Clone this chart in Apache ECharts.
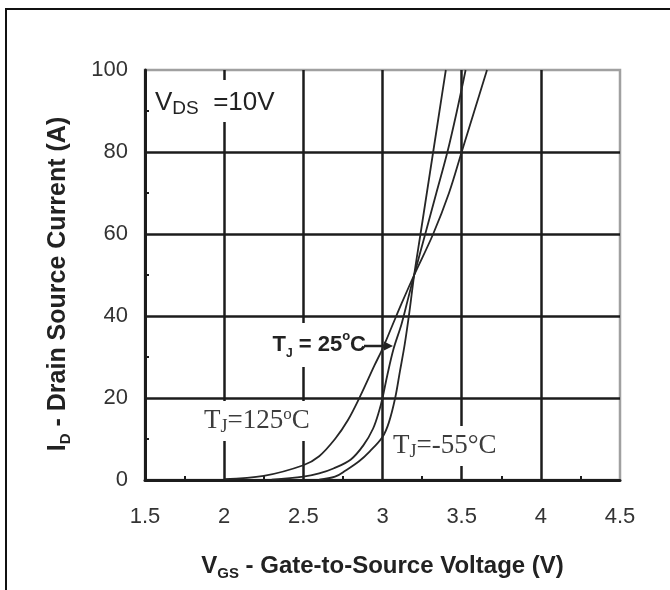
<!DOCTYPE html>
<html><head><meta charset="utf-8">
<script src="https://cdn.jsdelivr.net/npm/echarts@6/dist/echarts.min.js"></script>
<style>html,body{margin:0;padding:0;background:#fff;overflow:hidden}#c{width:670px;height:590px}</style>
</head><body><div id="c"></div>
<script>
// ---- data ----
const vgs125 = [2.0, 2.25, 2.5, 2.6, 2.7, 2.78, 2.86, 2.95, 3.0, 3.06, 3.12, 3.2, 3.32, 3.42, 3.5, 3.58, 3.66];
const id125  = [0.2, 1.0, 3.6, 5.8, 10, 14.5, 20.5, 28, 32, 37.5, 43, 50, 60, 70, 80, 90, 100];
const vgs25  = [2.3, 2.5, 2.6, 2.69, 2.8, 2.88, 2.94, 2.98, 3.0, 3.03, 3.07, 3.12, 3.16, 3.2, 3.27, 3.34, 3.41, 3.47, 3.525];
const id25   = [0.1, 0.8, 1.6, 2.8, 5.0, 8.5, 12.5, 17, 20, 25.5, 32, 38, 44, 50, 60, 70, 80, 90, 100];
const vgsM55 = [2.6, 2.7, 2.77, 2.85, 2.92, 3.0, 3.04, 3.08, 3.11, 3.14, 3.17, 3.2, 3.24, 3.28, 3.32, 3.36, 3.4];
const idM55  = [0.1, 0.8, 2.4, 4.5, 7.0, 10.5, 14, 20, 26.5, 33, 41, 50, 60, 70, 80, 90, 100];
const xRange = [1.5, 4.5], xStep = 0.5;
const yRange = [0, 100], yStep = 20;

function pairs(x, y) { return x.map((v, i) => [v, y[i]]); }

const SANS = '"Liberation Sans", Arial, sans-serif';
const SERIF = '"Liberation Serif", "Times New Roman", serif';
const INK = '#1c1c1c';

const chart = echarts.init(document.getElementById('c'));
const curveStyle = { color: '#262626', width: 1.8 };
function curve(name, x, y) {
  return { name, type: 'line', data: pairs(x, y), smooth: 0.35,
    showSymbol: false, symbol: 'none', lineStyle: curveStyle, z: 10, clip: true };
}

const axisCommon = {
  type: 'value',
  axisLine: { show: true, onZero: false, lineStyle: { color: INK, width: 3 } },
  axisTick: { show: false, inside: true },
  minorTick: { show: true, splitNumber: 2, length: 4, lineStyle: { color: INK, width: 2 } },
  splitLine: { show: true, showMinLine: false, showMaxLine: false, lineStyle: { color: INK, width: 2.5 } },
  minorSplitLine: { show: false }
};

chart.setOption({
  animation: false,
  backgroundColor: '#fff',
  grid: { left: 145, right: 50, top: 70, bottom: 110, show: true,
          borderColor: '#a0a0a0', borderWidth: 2.5, backgroundColor: '#fff' },
  xAxis: Object.assign({}, axisCommon, {
    min: xRange[0], max: xRange[1], interval: xStep,
    axisLabel: { margin: 26, fontSize: 22, color: '#333', fontFamily: SANS },
    name: '{m|V}{s|GS}{m| - Gate-to-Source Voltage (V)}',
    nameLocation: 'middle', nameGap: 71,
    nameTextStyle: { rich: {
      m: { fontSize: 24, fontWeight: 'bold', fontFamily: SANS, color: '#222', lineHeight: 30 },
      s: { fontSize: 15, fontWeight: 'bold', fontFamily: SANS, color: '#222', lineHeight: 15, verticalAlign: 'bottom' }
    } }
  }),
  yAxis: Object.assign({}, axisCommon, {
    min: yRange[0], max: yRange[1], interval: yStep,
    axisLabel: { margin: 17, fontSize: 22, color: '#333', fontFamily: SANS },
    name: '{m|I}{s|D}{m| - Drain Source Current (A)}',
    nameLocation: 'middle', nameGap: 72,
    nameTextStyle: { padding: [0, 18, 0, 0], rich: {
      m: { fontSize: 25, fontWeight: 'bold', fontFamily: SANS, color: '#222', lineHeight: 30 },
      s: { fontSize: 15, fontWeight: 'bold', fontFamily: SANS, color: '#222', lineHeight: 15, verticalAlign: 'bottom' }
    } }
  }),
  series: [
    curve('TJ=125°C', vgs125, id125),
    curve('TJ=25°C', vgs25, id25),
    curve('TJ=-55°C', vgsM55, idM55)
  ],
  graphic: { elements: [
    { type: 'polyline', z: 0, silent: true, shape: { points: [[6, 700], [6, 9], [720, 9]] },
      style: { fill: 'none', stroke: '#111', lineWidth: 2 } },
    { type: 'text', z: 5, x: 151, y: 101, style: {
      text: '{m|V}{s|DS}{m|  =10V}', align: 'left', verticalAlign: 'middle',
      backgroundColor: '#fff', padding: [8, 4, 4, 4],
      rich: {
        m: { fontSize: 26, fontFamily: SANS, fill: '#222', lineHeight: 30 },
        s: { fontSize: 19, fontFamily: SANS, fill: '#222', lineHeight: 19, verticalAlign: 'bottom' }
      } } },
    { type: 'text', z: 5, x: 367, y: 345, style: {
      text: '{m|T}{s|J}{m| = 25}{o|o}{m|C}', align: 'right', verticalAlign: 'middle',
      backgroundColor: '#fff', padding: [7, 1, 7, 4],
      rich: {
        m: { fontSize: 22, fontWeight: 'bold', fontFamily: SANS, fill: '#222', lineHeight: 30 },
        s: { fontSize: 12, fontWeight: 'bold', fontFamily: SANS, fill: '#222', lineHeight: 12, verticalAlign: 'bottom' },
        o: { fontSize: 13, fontWeight: 'bold', fontFamily: SANS, fill: '#222', lineHeight: 22, verticalAlign: 'top' }
      } } },
    { type: 'polyline', z: 6, shape: { points: [[364, 346], [387, 346]] },
      style: { stroke: '#222', lineWidth: 2.5 } },
    { type: 'polygon', z: 6, shape: { points: [[384, 341.5], [393, 346], [384, 350.5]] },
      style: { fill: '#222' } },
    { type: 'text', z: 5, x: 200, y: 421, style: {
      text: '{m|T}{j|J}{m|=125}{o|o}{m|C}', align: 'left', verticalAlign: 'middle',
      backgroundColor: '#fff', padding: [5, 4, 5, 4],
      rich: {
        m: { fontSize: 27, fontFamily: SERIF, fill: '#3c3c3c', lineHeight: 30 },
        j: { fontSize: 18, fontFamily: SERIF, fill: '#3c3c3c', lineHeight: 20, verticalAlign: 'bottom' },
        o: { fontSize: 17, fontFamily: SERIF, fill: '#3c3c3c', lineHeight: 26, verticalAlign: 'top' }
      } } },
    { type: 'text', z: 5, x: 389, y: 446, style: {
      text: '{m|T}{j|J}{m|=-55°C}', align: 'left', verticalAlign: 'middle',
      backgroundColor: '#fff', padding: [5, 4, 5, 4],
      rich: {
        m: { fontSize: 27, fontFamily: SERIF, fill: '#3c3c3c', lineHeight: 30 },
        j: { fontSize: 18, fontFamily: SERIF, fill: '#3c3c3c', lineHeight: 20, verticalAlign: 'bottom' }
      } } }
  ] }
});
</script>
</body></html>
